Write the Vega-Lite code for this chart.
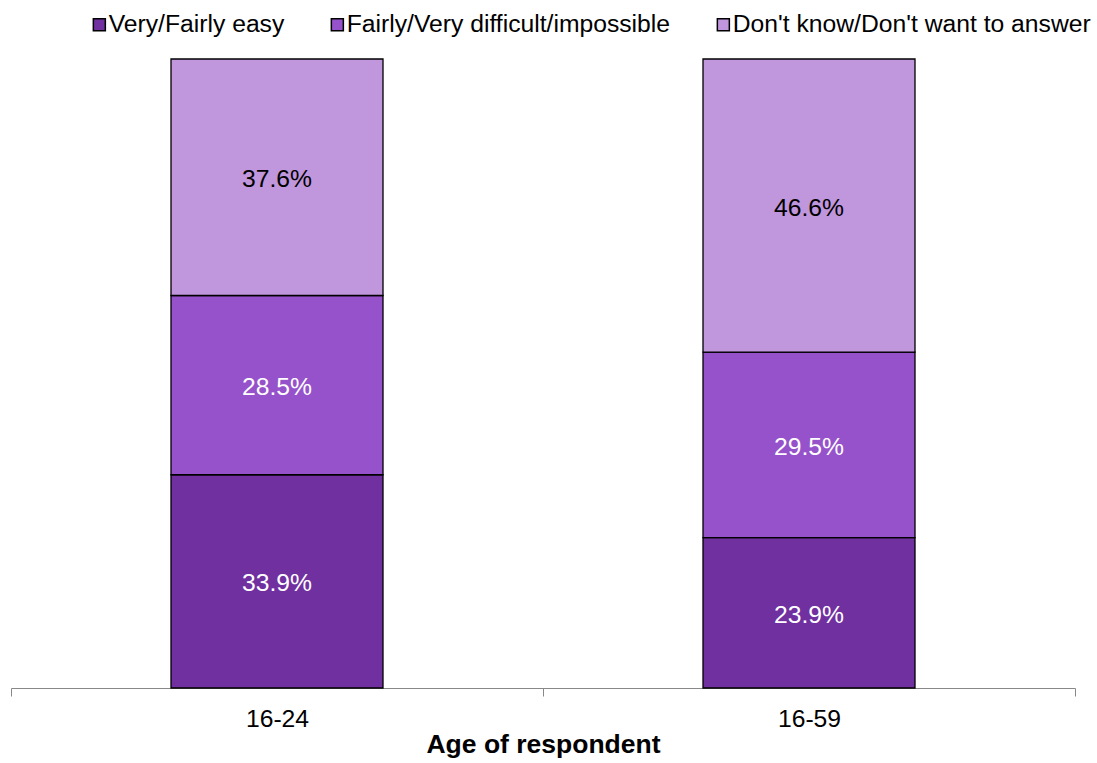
{
  "$schema": "https://vega.github.io/schema/vega-lite/v6.json",
  "width": 1064,
  "height": 629,
  "autosize": {"type": "none"},
  "padding": {"left": 11, "top": 59, "right": 22, "bottom": 75},
  "background": "white",
  "config": {
    "view": {"stroke": null},
    "font": "Liberation Sans",
    "text": {"font": "Liberation Sans"}
  },
  "data": {
    "values": [
      {"age": "16-24", "category": "Very/Fairly easy", "order": 1, "value": 0.339},
      {"age": "16-24", "category": "Fairly/Very difficult/impossible", "order": 2, "value": 0.285},
      {"age": "16-24", "category": "Don't know/Don't want to answer", "order": 3, "value": 0.376},
      {"age": "16-59", "category": "Very/Fairly easy", "order": 1, "value": 0.239},
      {"age": "16-59", "category": "Fairly/Very difficult/impossible", "order": 2, "value": 0.295},
      {"age": "16-59", "category": "Don't know/Don't want to answer", "order": 3, "value": 0.466}
    ]
  },
  "encoding": {
    "x": {
      "field": "age",
      "type": "nominal",
      "scale": {"paddingInner": 0, "paddingOuter": 0},
      "axis": {
        "title": "Age of respondent",
        "labelAngle": 0,
        "labelFontSize": 24.7,
        "labelColor": "black",
        "labelPadding": 10,
        "tickBand": "extent",
        "tickSize": 8,
        "tickColor": "#888888",
        "domainColor": "#888888",
        "titleFontSize": 26.5,
        "titleFontWeight": "bold",
        "titleColor": "black",
        "titlePadding": 1
      }
    },
    "y": {
      "field": "value",
      "type": "quantitative",
      "stack": "zero",
      "scale": {"domain": [0, 1], "nice": false},
      "axis": null
    },
    "order": {"field": "order", "type": "quantitative"}
  },
  "layer": [
    {
      "mark": {"type": "bar", "stroke": "black", "strokeWidth": 1.3, "width": {"band": 0.3985}},
      "encoding": {
        "color": {
          "field": "category",
          "type": "nominal",
          "sort": ["Very/Fairly easy", "Fairly/Very difficult/impossible", "Don't know/Don't want to answer"],
          "scale": {
            "domain": ["Very/Fairly easy", "Fairly/Very difficult/impossible", "Don't know/Don't want to answer"],
            "range": ["#7030A0", "#9652CA", "#C096DD"]
          },
          "legend": {
            "title": null,
            "orient": "none",
            "legendX": 76,
            "legendY": -47,
            "direction": "horizontal",
            "symbolType": "square",
            "symbolSize": 144,
            "symbolStrokeColor": "black",
            "symbolStrokeWidth": 1.5,
            "symbolOpacity": 1,
            "labelFontSize": 24.7,
            "labelColor": "black",
            "labelOffset": -3,
            "columnPadding": 40,
            "labelLimit": 600
          }
        }
      }
    },
    {
      "mark": {"type": "text", "fontSize": 24.7, "dy": 3},
      "encoding": {
        "y": {
          "field": "value",
          "type": "quantitative",
          "stack": "zero",
          "bandPosition": 0.5
        },
        "text": {"field": "value", "type": "quantitative", "format": ".1%"},
        "color": {
          "condition": {"test": "datum.order === 3", "value": "black"},
          "value": "white"
        }
      }
    }
  ]
}
